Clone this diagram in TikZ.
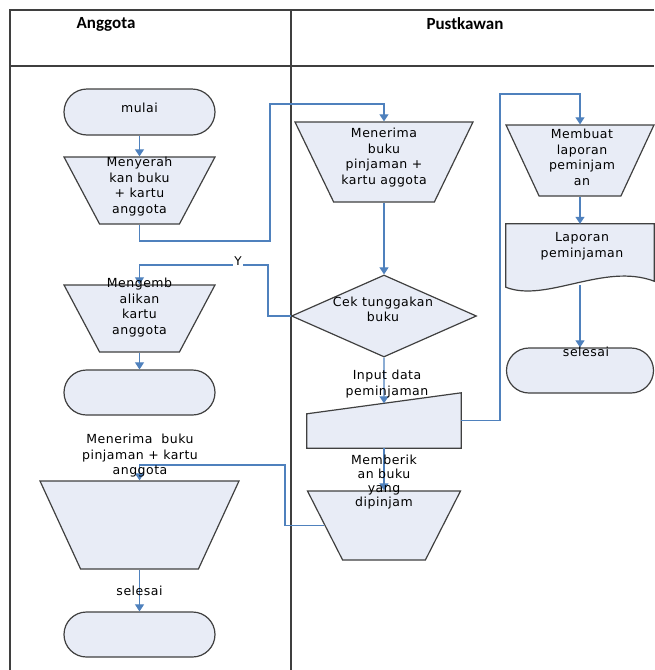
\documentclass[tikz,border=0pt]{standalone}
\usepackage{fontspec}
\setmainfont{DejaVu Sans}
\newfontfamily\headfont{Carlito}
\newfontfamily\boxfont{DejaVu Sans}[LetterSpace=4]
\usetikzlibrary{arrows.meta,shapes.geometric,shapes.misc,calc}
\definecolor{flowFill}{HTML}{E8ECF6}
\definecolor{flowLine}{HTML}{404040}
\definecolor{flowLink}{HTML}{4F81BD}
\definecolor{laneLine}{HTML}{3F3F3F}
\tikzset{
  flow shape/.style={draw=flowLine, fill=flowFill, line width=1.2pt},
  flow terminal/.style={flow shape, rounded rectangle, minimum width=151pt, minimum height=46pt, inner sep=0pt},
  flow manual/.style={flow shape, trapezium, shape border rotate=180, trapezium stretches=true, inner sep=2pt},
  flow decision/.style={flow shape, diamond, inner sep=2pt},
  flow link/.style={draw=flowLink, line width=1.1pt},
  flow arrow/.style={flow link, -{Triangle[length=7pt,width=9pt]}},
  flow text/.style={font=\boxfont\fontsize{12.5}{15.5}\selectfont, text=black, align=center, inner sep=0pt},
  lane line/.style={draw=laneLine, line width=1.4pt},
  lane title/.style={font=\headfont\bfseries\fontsize{17}{20}\selectfont, text=black},
}

\begin{document}
\begin{tikzpicture}[x=1pt, y=-1pt]
  \useasboundingbox (0,0) rectangle (654,670);
  % Swimlane frame
  \draw[lane line] (10,670) -- (10,10) -- (654,10);
  \draw[lane line] (10,66) -- (654,66);
  \draw[lane line] (291,10) -- (291,670);
  \node[lane title] (hAnggota) at (106,24) {Anggota};
  \node[lane title] (hPustaka) at (465,24) {Pustkawan};

  % Anggota lane
  \node[flow terminal] (mulai) at (139.5,112) {};
  \node[flow manual, trapezium angle=66, minimum width=151pt, minimum height=67pt] (menyerah) at (139.5,190.5) {};
  \node[flow manual, trapezium angle=66, minimum width=151pt, minimum height=67pt] (kembali) at (139.5,318.5) {};
  \node[flow terminal, minimum height=45pt] (akhirA) at (139.5,392.5) {};
  \node[flow manual, trapezium angle=71, minimum width=199pt, minimum height=88pt] (terimaA) at (139.5,525) {};
  \node[flow terminal, minimum height=45pt] (selesaiA) at (139.5,634.5) {};

  % Pustkawan lane
  \node[flow manual, trapezium angle=69, minimum width=178pt, minimum height=80pt] (terimaP) at (384,162) {};
  \node[flow decision, minimum width=185pt, minimum height=82pt] (cek) at (384,316) {};
  \node[inner sep=0pt, minimum width=154pt, minimum height=55pt] (inp) at (384,420.5) {};
  \coordinate (inpTL) at ($(inp.north west)+(0,21)$);
  \coordinate (inpIn) at ($(inpTL)!0.5!(inp.north east)$);
  \filldraw[flow shape] (inp.south west) -- (inp.south east) -- (inp.north east) -- (inpTL) -- cycle;
  \node[flow manual, trapezium angle=67, minimum width=153pt, minimum height=69pt] (beri) at (384,525.5) {};
  \node[flow manual, trapezium angle=68, minimum width=148pt, minimum height=71pt] (buat) at (580,160.5) {};
  \node[inner sep=0pt, minimum width=148pt, minimum height=61pt] (lap) at (580,254.5) {};
  \filldraw[flow shape] ($(lap.south west)+(0,2)$) -- (lap.north west) -- (lap.north east)
    -- ($(lap.south east)+(0,-4)$)
    .. controls ($(lap.south east)+(-50,-23)$) and ($(lap.south west)+(40,18)$) .. ($(lap.south west)+(0,2)$) -- cycle;
  \node[flow terminal, minimum width=147pt, minimum height=45pt] (selesaiP) at (580,370.5) {};

  % Connectors
  \draw[flow arrow] (mulai) -- (menyerah);
  \draw[flow arrow] (menyerah.south) |- (270,241) -- (270,104) -| (terimaP.north);
  \draw[flow arrow] (terimaP.south) -- (cek.north);
  \draw[flow arrow] (cek.west) -| (268,265) -| (kembali.north);
  \draw[flow arrow] (kembali.south) -- (akhirA.north);
  \draw[flow arrow] (cek.south) -- (inpIn);
  \draw[flow arrow] (inp.east) -| (500,94) -| (buat.north);
  \draw[flow arrow] (inp.south) -- (beri.north);
  \draw[flow arrow] (beri.west) -| (285,465) -| (terimaA.north);
  \draw[flow arrow] (terimaA.south) -- (selesaiA.north);
  \draw[flow arrow] (buat.south) -- (lap.north);
  \draw[flow arrow] (lap.south) -- (selesaiP.north);
  \node[fill=white, inner sep=1.5pt, font=\fontsize{12}{14}\selectfont] (yLabel) at (238,261) {Y};

  % Texts
  \node[flow text] (tMulai) at (139.5,108) {mulai};
  \node[flow text] (tMenyerah) at (139.5,186.5) {Menyerah\\kan buku\\+ kartu\\anggota};
  \node[flow text] (tKembali) at (139.5,307.5) {Mengemb\\alikan\\kartu\\anggota};
  \node[flow text] (tTerimaA) at (140,456) {Menerima \ buku\\pinjaman + kartu\\anggota};
  \node[flow text] (tSelesaiA) at (139.5,591) {selesai};
  \node[flow text] (tTerimaP) at (384,157.5) {Menerima\\buku\\pinjaman +\\kartu aggota};
  \node[flow text] (tCek) at (383,309.5) {Cek tunggakan\\buku};
  \node[flow text] (tInput) at (387,384) {Input data\\peminjaman};
  \node[flow text, font=\boxfont\fontsize{12.5}{14}\selectfont] (tBeri) at (384,482) {Memberik\\an buku\\yang\\dipinjam};
  \node[flow text] (tBuat) at (582,157.5) {Membuat\\laporan\\peminjam\\an};
  \node[flow text] (tLap) at (582,246) {Laporan\\peminjaman};
  \node[flow text] (tSelesaiP) at (586,352) {selesai};
\end{tikzpicture}
\end{document}
